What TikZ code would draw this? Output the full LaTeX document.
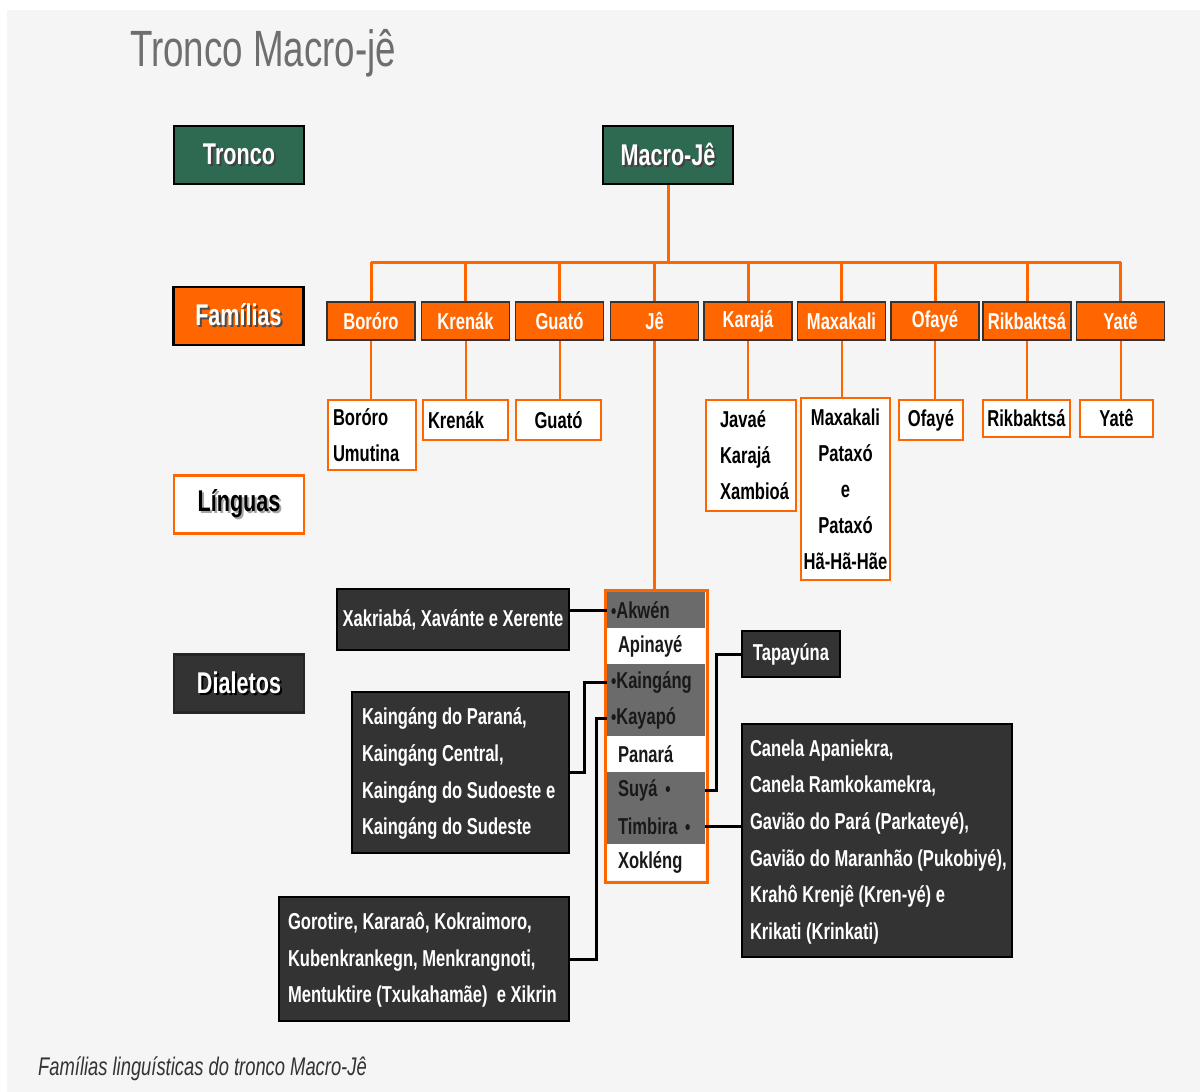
\documentclass[tikz,border=0pt]{standalone}
\usepackage{fontspec}
\setmainfont{Liberation Sans}
\newfontfamily\nar[FakeStretch=0.72]{Liberation Sans}
\definecolor{bggray}{HTML}{F5F5F5}
\definecolor{tgreen}{HTML}{2E6A52}
\definecolor{mjorange}{HTML}{FF6600}
\definecolor{dkbox}{HTML}{333333}
\definecolor{rowgray}{HTML}{6B6B6B}
\definecolor{titlegray}{HTML}{6E6E6E}
\newcommand\shd[2]{\makebox[0pt][l]{\kern2pt\raisebox{-2pt}{\textcolor{#2}{#1}}}#1}
\newcommand\lines[1]{{\spaceskip 4.6pt\relax\begin{tabular}{@{}l@{}}#1\end{tabular}}}
\newcommand\tf{\nar\bfseries\fontsize{23}{36}\selectfont\spaceskip 4.6pt\relax}
\newcommand\dkf{\nar\bfseries\fontsize{23}{36.6}\selectfont\spaceskip 4.6pt\relax}
\tikzset{
  hdr/.style={draw=black, line width=2.5pt, minimum width=130pt, minimum height=58pt, inner sep=0pt,
    font=\nar\bfseries\fontsize{30}{36}\selectfont},
  fam/.style={fill=mjorange, draw=black!80, line width=1.5pt, minimum width=88pt, minimum height=38pt,
    inner sep=0pt, text=white, font=\tf},
  lang/.style={fill=white, draw=mjorange, line width=2.5pt, inner sep=0pt, text=black, font=\tf},
  dk/.style={fill=dkbox, draw=black, line width=2.5pt, inner sep=0pt, text=white, font=\dkf},
  jrow/.style={minimum width=98pt, minimum height=36pt, inner ysep=0pt, inner xsep=4pt, text width=90pt,
    align=left, text=black!90, font=\tf},
  grayrow/.style={jrow, fill=rowgray},
  whiterow/.style={jrow, fill=white},
  oline/.style={draw=mjorange, line width=3pt},
  othin/.style={draw=mjorange, line width=2pt},
  bline/.style={draw=black, line width=3pt},
}
\newcommand\bul{{\fontsize{21}{21}\selectfont •}}
\begin{document}
\begin{tikzpicture}[x=1pt,y=-1pt]
\useasboundingbox (0,0) rectangle (1200,1092);
\fill[white] (0,0) rectangle (1200,1092);
\fill[bggray] (7,10) rectangle (1200,1092);

% title and caption
\node[anchor=base west, inner sep=0pt, text=titlegray, font=\nar\fontsize{51}{60}\selectfont] (title) at (130,66) {Tronco Macro-jê};
\node[anchor=base west, inner sep=0pt, text=black!80, font=\nar\itshape\fontsize{25.5}{30}\selectfont] (caption) at (38,1075) {Famílias linguísticas do tronco Macro-Jê};

% row headers
\node[hdr, fill=tgreen, text=white] (tronco) at (239,155) {\shd{Tronco}{black!75}};
\node[hdr, fill=tgreen, text=white] (mj) at (668,155) {\shd{Macro-Jê}{black!75}};
\node[hdr, fill=mjorange, text=white] (familias) at (238.5,316) {\shd{Famílias}{black!70}};
\node[hdr, fill=white, draw=mjorange, text=black] (linguas) at (239,504.5) {\shd{Línguas}{black!35}};
\node[hdr, fill=dkbox, draw=black!85, text=white] (dialetos) at (239,683.5) {\shd{Dialetos}{black}};

% families
\node[fam] (boro) at (371,321) {Boróro};
\node[fam] (kren) at (465.5,321) {Krenák};
\node[fam] (guat) at (559.5,321) {Guató};
\node[fam] (je) at (654.5,321) {Jê};
\node[fam] (kara) at (748,321) {Karajá};
\node[fam] (maxa) at (841.5,321) {Maxakali};
\node[fam] (ofay) at (935,321) {Ofayé};
\node[fam] (rikb) at (1027,321) {Rikbaktsá};
\node[fam] (yate) at (1120.5,321) {Yatê};

\coordinate (barL) at (371,262);
\coordinate (barR) at (1120.5,262);
\draw[oline] (mj.south) -- (mj.south |- barL);
\draw[oline] (barL) -- (barR);
\foreach \f in {boro,kren,guat,je,kara,maxa,ofay,rikb,yate}
  \draw[oline] (\f.north) -- (\f.north |- barL);

% languages
\node[lang, minimum width=88pt, minimum height=70pt, text width=78pt, inner xsep=5pt, align=left] (lboro) at (372,435) {Boróro\\Umutina};
\node[lang, minimum width=85pt, minimum height=40pt, text width=75pt, inner xsep=5pt, align=left] (lkren) at (465.5,420) {Krenák};
\node[lang, minimum width=85pt, minimum height=40pt] (lguat) at (558.5,420) {Guató};
\node[lang, minimum width=90pt, minimum height=111pt, text width=62pt, inner xsep=14pt, align=left] (lkara) at (751,455.5) {Javaé\\Karajá\\Xambioá};
\node[lang, minimum width=89pt, minimum height=182pt, align=center] (lmaxa) at (845.5,489) {Maxakali\\Pataxó\\e\\Pataxó\\Hã-Hã-Hãe};
\node[lang, minimum width=64pt, minimum height=40pt] (lofay) at (931,420) {Ofayé};
\node[lang, minimum width=87pt, minimum height=37pt] (lrikb) at (1026.5,418.5) {Rikbaktsá};
\node[lang, minimum width=73pt, minimum height=37pt] (lyate) at (1116.5,418.5) {Yatê};

\draw[othin] (boro.south) -- (boro.south |- lboro.north);
\draw[othin] (kren.south) -- (kren.south |- lkren.north);
\draw[othin] (guat.south) -- (guat.south |- lguat.north);
\draw[othin] (kara.south) -- (kara.south |- lkara.north);
\draw[othin] (maxa.south) -- (maxa.south |- lmaxa.north);
\draw[othin] (ofay.south) -- (ofay.south |- lofay.north);
\draw[mjorange, line width=1.2pt] (rikb.south) -- (rikb.south |- lrikb.north);
\draw[othin] (yate.south) -- (yate.south |- lyate.north);

% Je list
\node[grayrow] (akwen) at (656,610) {\bul Akwén};
\node[whiterow] (apin) at (656,646) {\hspace*{7pt}Apinayé};
\node[grayrow] (kaing) at (656,682) {\bul Kaingáng};
\node[grayrow] (kaya) at (656,718) {\bul Kayapó};
\node[whiterow] (pana) at (656,754) {\hspace*{7pt}Panará};
\node[grayrow] (suya) at (656,790) {\hspace*{7pt}Suyá \bul};
\node[grayrow] (timb) at (656,826) {\hspace*{7pt}Timbira \bul};
\node[whiterow] (xokl) at (656,862) {\hspace*{7pt}Xokléng};
\node[draw=mjorange, line width=3pt, minimum width=102pt, minimum height=292pt, inner sep=0pt] (jelist) at (656,736) {};
\draw[oline] (je.south) -- (je.south |- jelist.north);

% dialect boxes
\node[dk, minimum width=232pt, minimum height=61pt] (xak) at (453,619.5) {Xakriabá, Xavánte e Xerente};
\node[dk, minimum width=217pt, minimum height=161pt, text width=197pt, inner xsep=10pt] (kgbox) at (460.5,772.5) {\lines{Kaingáng do Paraná,\\Kaingáng Central,\\Kaingáng do Sudoeste e\\Kaingáng do Sudeste}};
\node[dk, minimum width=290pt, minimum height=124pt, text width=272pt, inner xsep=9pt] (gorbox) at (424,959) {\lines{Gorotire, Kararaô, Kokraimoro,\\Kubenkrankegn, Menkrangnoti,\\Mentuktire (Txukahamãe)\ \ e Xikrin}};
\node[dk, minimum width=98pt, minimum height=46pt] (tapbox) at (791,654) {Tapayúna};
\node[dk, minimum width=270pt, minimum height=233pt, text width=254pt, inner xsep=8pt] (canbox) at (877,840.5) {\lines{Canela Apaniekra,\\Canela Ramkokamekra,\\Gavião do Pará (Parkateyé),\\Gavião do Maranhão (Pukobiyé),\\Krahô Krenjê (Kren-yé) e\\Krikati (Krinkati)}};

% dialect connectors
\draw[bline] (akwen.west) -- (xak.east |- akwen.west);
\draw[bline] (kaing.west) -- ++(-22,0) |- (kgbox.east);
\draw[bline] (kaya.west) -- ++(-10,0) |- (gorbox.east);
\draw[bline] (suya.east) -- ++(11,0) |- (tapbox.west);
\draw[bline] (timb.east) -- (canbox.west |- timb.east);
\end{tikzpicture}
\end{document}
